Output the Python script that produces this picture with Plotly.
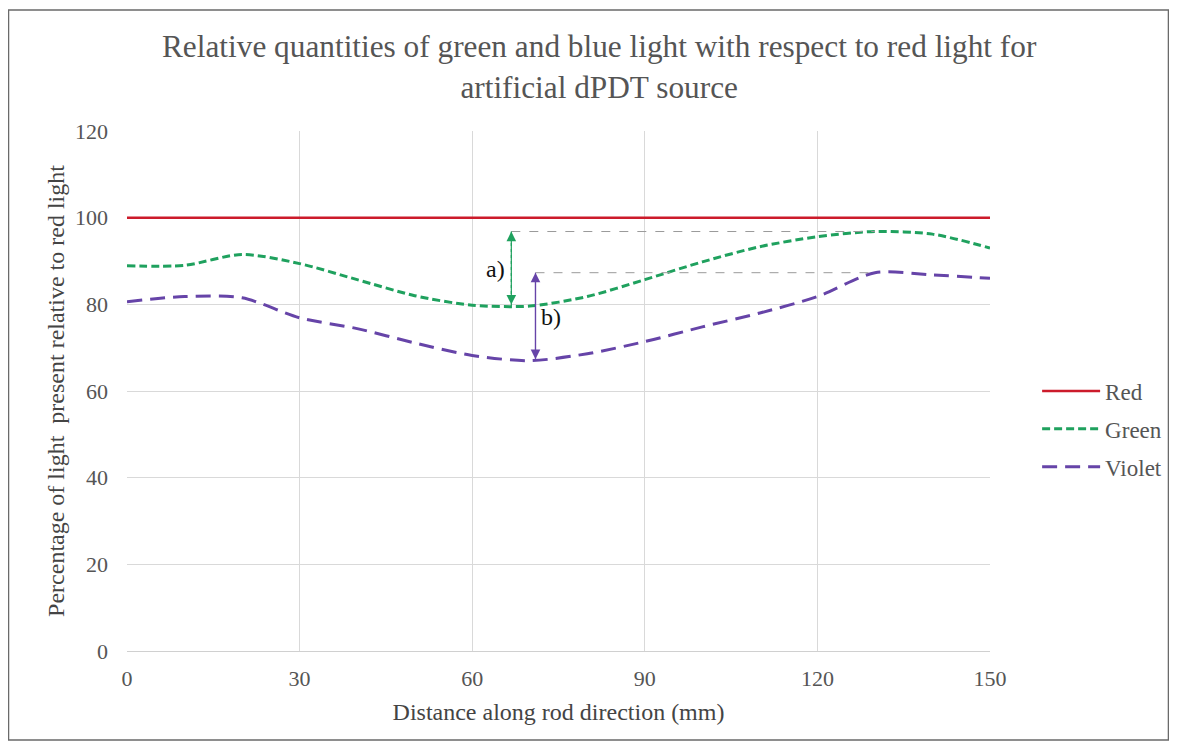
import plotly.graph_objects as go

distance = [0, 10, 20, 30, 40, 50, 60, 70, 80, 90, 100, 110, 120, 130, 140, 150]
red = [100] * 16
green = [88.9, 89.0, 91.5, 89.4, 85.7, 82.0, 79.8, 79.6, 81.8, 85.7, 89.8, 93.3, 95.6, 96.8, 96.2, 93.0]
violet = [80.6, 81.8, 81.5, 76.9, 74.4, 71.1, 68.2, 67.0, 68.6, 71.4, 74.8, 78.0, 81.8, 87.3, 86.8, 86.0]

# annotation values: (x, y_low, y_high, x_end_of_guide)
ann_a = (66.8, 79.6, 96.8, 130)
ann_b = (71.0, 67.0, 87.3, 130)

title_text = ("Relative quantities of green and blue light with respect to red light for"
              "<br>artificial dPDT source")

serif = "Liberation Serif, Times New Roman, serif"
GREEN = "#1fa15e"
VIOLET = "#6644a8"

fig = go.Figure()
fig.add_trace(go.Scatter(x=distance, y=red, name="Red", mode="lines", legendgroup="r",
                         line=dict(color="#cc1b2b", width=2.5)))
fig.add_trace(go.Scatter(x=distance, y=green, name="Green", mode="lines", legendgroup="g",
                         line=dict(color=GREEN, width=3, dash="8px,4px", shape="spline", smoothing=0.8)))
fig.add_trace(go.Scatter(x=distance, y=violet, name="Violet", mode="lines", legendgroup="v",
                         line=dict(color=VIOLET, width=3, dash="15px,8px", shape="spline", smoothing=0.8)))

for (xa, lo, hi, xe), col, dsh in [(ann_a, GREEN, "dot"), (ann_b, VIOLET, "solid")]:
    fig.add_shape(type="line", x0=xa, x1=xe, y0=hi, y1=hi, xref="x", yref="y",
                  line=dict(color="#9a9a9a", width=1, dash="dash"))
    fig.add_shape(type="line", x0=xa, x1=xa, y0=lo, y1=hi, xref="x", yref="y",
                  line=dict(color=col, width=1.2, dash=dsh))
    fig.add_annotation(x=xa, y=hi, ax=xa, ay=lo, xref="x", yref="y", axref="x", ayref="y",
                       showarrow=True, arrowhead=2, arrowside="end+start", arrowsize=1.6,
                       arrowwidth=1.2, arrowcolor=col, text="", opacity=1)

fig.add_annotation(x=ann_a[0], y=(ann_a[1] + ann_a[2]) / 2, xref="x", yref="y", text="a)",
                   showarrow=False, xanchor="right", xshift=-4,
                   font=dict(family=serif, size=24, color="#111"))
fig.add_annotation(x=ann_b[0], y=(ann_b[1] + ann_b[2]) / 2, xref="x", yref="y", text="b)",
                   showarrow=False, xanchor="left", xshift=4,
                   font=dict(family=serif, size=24, color="#111"))

# title as annotation
fig.add_annotation(x=0.548, y=1.124, xref="paper", yref="paper", text=title_text, showarrow=False,
                   xanchor="center", yanchor="middle",
                   font=dict(family=serif, size=31.3, color="#555"))

# outer border
fig.add_shape(type="rect", xref="paper", yref="paper", x0=-0.1373, x1=1.2068, y0=-0.1712, y1=1.2327,
              line=dict(color="#6a6a6a", width=1.5), fillcolor="rgba(0,0,0,0)")

fig.update_layout(
    width=1161, height=733,
    margin=dict(l=119, r=179, t=123, b=90, autoexpand=False),
    paper_bgcolor="white", plot_bgcolor="white",
    font=dict(family=serif, color="#555"),
    legend=dict(x=1.0546, y=0.427, xanchor="left", yanchor="middle",
                font=dict(family=serif, size=23, color="#555"),
                tracegroupgap=5, itemwidth=58),
    showlegend=True,
)
fig.update_xaxes(range=[0, 150], tickvals=[0, 30, 60, 90, 120, 150], showgrid=True,
                 gridcolor="#d9d9d9", zeroline=False, showline=True, linecolor="#d0d0d0",
                 ticks="", tickfont=dict(family=serif, size=22, color="#555"), ticklabelstandoff=8,
                 title=dict(text="Distance along rod direction (mm)", standoff=12,
                            font=dict(family=serif, size=24, color="#444")))
fig.update_yaxes(range=[0, 120], tickvals=[0, 20, 40, 60, 80, 100, 120], showgrid=True,
                 gridcolor="#d9d9d9", zeroline=False, showline=False,
                 ticks="", tickfont=dict(family=serif, size=22, color="#555"), ticklabelstandoff=18,
                 title=dict(text="Percentage of light  present relative to red light", standoff=3,
                            font=dict(family=serif, size=24, color="#444")))

fig.write_html("out.html")
